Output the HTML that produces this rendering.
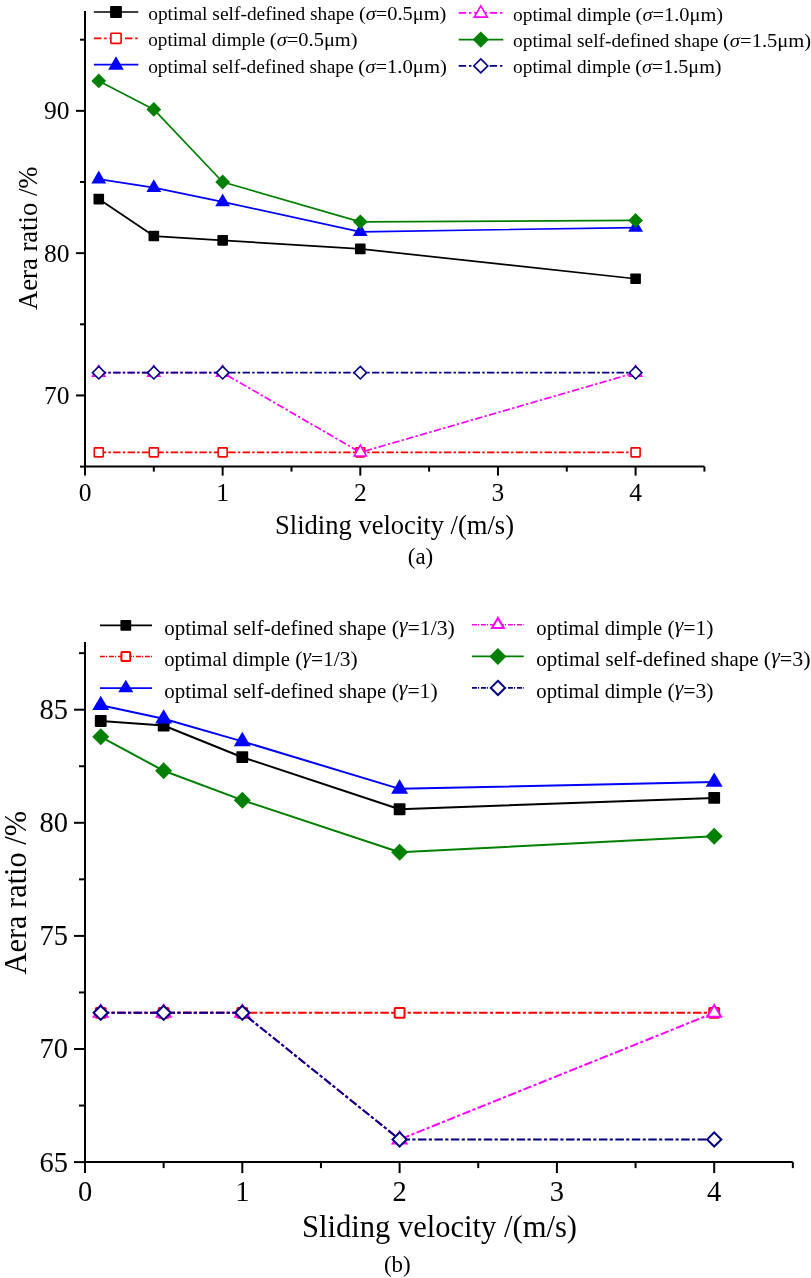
<!DOCTYPE html>
<html><head><meta charset="utf-8"><style>
html,body{margin:0;padding:0;background:#fff;}
svg{display:block;will-change:transform;}
text{font-family:"Liberation Serif", serif;fill:#000;}
</style></head><body>
<svg width="811" height="1278" viewBox="0 0 811 1278">
<rect width="811" height="1278" fill="#fff"/>
<line x1="85" y1="11" x2="85" y2="466.6" stroke="#000" stroke-width="2"/>
<line x1="84" y1="466.6" x2="704.4250000000001" y2="466.6" stroke="#000" stroke-width="2"/>
<line x1="76" y1="395.45" x2="85" y2="395.45" stroke="#000" stroke-width="2"/>
<text x="69.6" y="403.85" font-size="25.5" text-anchor="end">70</text>
<line x1="76" y1="253.15" x2="85" y2="253.15" stroke="#000" stroke-width="2"/>
<text x="69.6" y="261.55" font-size="25.5" text-anchor="end">80</text>
<line x1="76" y1="110.85" x2="85" y2="110.85" stroke="#000" stroke-width="2"/>
<text x="69.6" y="119.25" font-size="25.5" text-anchor="end">90</text>
<line x1="80" y1="466.60" x2="85" y2="466.60" stroke="#000" stroke-width="2"/>
<line x1="80" y1="324.30" x2="85" y2="324.30" stroke="#000" stroke-width="2"/>
<line x1="80" y1="182.00" x2="85" y2="182.00" stroke="#000" stroke-width="2"/>
<line x1="80" y1="39.70" x2="85" y2="39.70" stroke="#000" stroke-width="2"/>
<line x1="85.00" y1="466.6" x2="85.00" y2="475.6" stroke="#000" stroke-width="2"/>
<text x="85.00" y="500.8" font-size="25.5" text-anchor="middle">0</text>
<line x1="222.65" y1="466.6" x2="222.65" y2="475.6" stroke="#000" stroke-width="2"/>
<text x="222.65" y="500.8" font-size="25.5" text-anchor="middle">1</text>
<line x1="360.30" y1="466.6" x2="360.30" y2="475.6" stroke="#000" stroke-width="2"/>
<text x="360.30" y="500.8" font-size="25.5" text-anchor="middle">2</text>
<line x1="497.95" y1="466.6" x2="497.95" y2="475.6" stroke="#000" stroke-width="2"/>
<text x="497.95" y="500.8" font-size="25.5" text-anchor="middle">3</text>
<line x1="635.60" y1="466.6" x2="635.60" y2="475.6" stroke="#000" stroke-width="2"/>
<text x="635.60" y="500.8" font-size="25.5" text-anchor="middle">4</text>
<line x1="153.82" y1="466.6" x2="153.82" y2="471.6" stroke="#000" stroke-width="2"/>
<line x1="291.48" y1="466.6" x2="291.48" y2="471.6" stroke="#000" stroke-width="2"/>
<line x1="429.12" y1="466.6" x2="429.12" y2="471.6" stroke="#000" stroke-width="2"/>
<line x1="566.78" y1="466.6" x2="566.78" y2="471.6" stroke="#000" stroke-width="2"/>
<line x1="704.43" y1="466.6" x2="704.43" y2="471.6" stroke="#000" stroke-width="2"/>
<text x="275" y="533.5" font-size="27.5" textLength="239" lengthAdjust="spacingAndGlyphs">Sliding velocity /(m/s)</text>
<text transform="translate(37.3,310) rotate(-90)" font-size="27.5" textLength="143.5" lengthAdjust="spacingAndGlyphs">Aera ratio /%</text>
<text x="420.5" y="564" font-size="23" text-anchor="middle">(a)</text>
<polyline points="98.77,199.08 153.82,236.07 222.65,240.34 360.30,248.88 635.60,278.76" fill="none" stroke="#000000" stroke-width="1.7" stroke-linejoin="round"/>
<rect x="93.47" y="193.78" width="10.60" height="10.60" rx="0.8" fill="#000000"/>
<rect x="148.52" y="230.77" width="10.60" height="10.60" rx="0.8" fill="#000000"/>
<rect x="217.35" y="235.04" width="10.60" height="10.60" rx="0.8" fill="#000000"/>
<rect x="355.00" y="243.58" width="10.60" height="10.60" rx="0.8" fill="#000000"/>
<rect x="630.30" y="273.46" width="10.60" height="10.60" rx="0.8" fill="#000000"/>
<polyline points="98.77,452.37 153.82,452.37 222.65,452.37 360.30,452.37 635.60,452.37" fill="none" stroke="#ff0000" stroke-width="1.7" stroke-dasharray="7.4 2.25 2.4 2.33" stroke-linejoin="round"/>
<rect x="94.27" y="447.87" width="9.00" height="9.00" rx="0.6" fill="#fff" stroke="#ff0000" stroke-width="1.6"/>
<rect x="149.32" y="447.87" width="9.00" height="9.00" rx="0.6" fill="#fff" stroke="#ff0000" stroke-width="1.6"/>
<rect x="218.15" y="447.87" width="9.00" height="9.00" rx="0.6" fill="#fff" stroke="#ff0000" stroke-width="1.6"/>
<rect x="355.80" y="447.87" width="9.00" height="9.00" rx="0.6" fill="#fff" stroke="#ff0000" stroke-width="1.6"/>
<rect x="631.10" y="447.87" width="9.00" height="9.00" rx="0.6" fill="#fff" stroke="#ff0000" stroke-width="1.6"/>
<polyline points="98.77,179.15 153.82,187.69 222.65,201.92 360.30,231.81 635.60,227.54" fill="none" stroke="#0000ff" stroke-width="1.7" stroke-linejoin="round"/>
<polygon points="98.77,170.62 106.17,183.42 91.36,183.42" fill="#0000ff"/>
<polygon points="153.82,179.16 161.22,191.96 146.42,191.96" fill="#0000ff"/>
<polygon points="222.65,193.39 230.05,206.19 215.25,206.19" fill="#0000ff"/>
<polygon points="360.30,223.27 367.70,236.07 352.90,236.07" fill="#0000ff"/>
<polygon points="635.60,219.00 643.00,231.80 628.20,231.80" fill="#0000ff"/>
<polyline points="98.77,372.68 153.82,372.68 222.65,372.68 360.30,452.37 635.60,372.68" fill="none" stroke="#ff00ff" stroke-width="1.7" stroke-dasharray="7.4 2.25 2.4 2.33" stroke-linejoin="round"/>
<polygon points="98.77,365.54 104.89,376.26 92.64,376.26" fill="#fff" stroke="#ff00ff" stroke-width="1.6"/>
<polygon points="153.82,365.54 159.94,376.26 147.70,376.26" fill="#fff" stroke="#ff00ff" stroke-width="1.6"/>
<polygon points="222.65,365.54 228.77,376.26 216.53,376.26" fill="#fff" stroke="#ff00ff" stroke-width="1.6"/>
<polygon points="360.30,445.22 366.42,455.94 354.18,455.94" fill="#fff" stroke="#ff00ff" stroke-width="1.6"/>
<polygon points="635.60,365.54 641.72,376.26 629.48,376.26" fill="#fff" stroke="#ff00ff" stroke-width="1.6"/>
<polyline points="98.77,80.97 153.82,109.43 222.65,182.00 360.30,221.84 635.60,220.42" fill="none" stroke="#008000" stroke-width="1.7" stroke-linejoin="round"/>
<polygon points="98.77,73.57 106.17,80.97 98.77,88.37 91.36,80.97" fill="#008000"/>
<polygon points="153.82,102.03 161.22,109.43 153.82,116.83 146.42,109.43" fill="#008000"/>
<polygon points="222.65,174.60 230.05,182.00 222.65,189.40 215.25,182.00" fill="#008000"/>
<polygon points="360.30,214.44 367.70,221.84 360.30,229.24 352.90,221.84" fill="#008000"/>
<polygon points="635.60,213.02 643.00,220.42 635.60,227.82 628.20,220.42" fill="#008000"/>
<polyline points="98.77,372.68 153.82,372.68 222.65,372.68 360.30,372.68 635.60,372.68" fill="none" stroke="#000080" stroke-width="1.7" stroke-dasharray="7.4 2.25 2.4 2.33" stroke-linejoin="round"/>
<polygon points="98.77,366.40 105.05,372.68 98.77,378.96 92.48,372.68" fill="#fff" stroke="#000080" stroke-width="1.6"/>
<polygon points="153.82,366.40 160.10,372.68 153.82,378.96 147.54,372.68" fill="#fff" stroke="#000080" stroke-width="1.6"/>
<polygon points="222.65,366.40 228.93,372.68 222.65,378.96 216.37,372.68" fill="#fff" stroke="#000080" stroke-width="1.6"/>
<polygon points="360.30,366.40 366.58,372.68 360.30,378.96 354.02,372.68" fill="#fff" stroke="#000080" stroke-width="1.6"/>
<polygon points="635.60,366.40 641.88,372.68 635.60,378.96 629.32,372.68" fill="#fff" stroke="#000080" stroke-width="1.6"/>
<line x1="93.9" y1="12" x2="138.3" y2="12" stroke="#000000" stroke-width="1.7"/>
<rect x="110.10" y="6.10" width="11.80" height="11.80" rx="0.8" fill="#000000"/>
<text x="148.20" y="20" font-size="19" textLength="206.00" lengthAdjust="spacingAndGlyphs">optimal self-defined shape</text>
<text x="358.94" y="20" font-size="19" textLength="87.47" lengthAdjust="spacingAndGlyphs">(<tspan font-style="italic" dy="0">σ</tspan><tspan dy="0">=0.5μm)</tspan></text>
<line x1="93.9" y1="38.3" x2="138.3" y2="38.3" stroke="#ff0000" stroke-width="1.7" stroke-dasharray="7.4 2.9 2.4 2.8"/>
<rect x="110.90" y="33.20" width="10.20" height="10.20" rx="0.6" fill="#fff" stroke="#ff0000" stroke-width="1.6"/>
<text x="148.20" y="46.2" font-size="19" textLength="116.89" lengthAdjust="spacingAndGlyphs">optimal dimple</text>
<text x="269.84" y="46.2" font-size="19" textLength="87.77" lengthAdjust="spacingAndGlyphs">(<tspan font-style="italic" dy="0">σ</tspan><tspan dy="0">=0.5μm)</tspan></text>
<line x1="93.9" y1="64.6" x2="138.3" y2="64.6" stroke="#0000ff" stroke-width="1.7"/>
<polygon points="116.00,56.27 123.80,69.67 108.20,69.67" fill="#0000ff"/>
<text x="148.20" y="72.5" font-size="19" textLength="205.39" lengthAdjust="spacingAndGlyphs">optimal self-defined shape</text>
<text x="358.34" y="72.5" font-size="19" textLength="88.47" lengthAdjust="spacingAndGlyphs">(<tspan font-style="italic" dy="0">σ</tspan><tspan dy="0">=1.0μm)</tspan></text>
<line x1="458.7" y1="12.8" x2="503.3" y2="12.8" stroke="#ff00ff" stroke-width="1.7" stroke-dasharray="7.4 2.9 2.4 2.8"/>
<polygon points="480.80,5.85 487.32,17.17 474.28,17.17" fill="#fff" stroke="#ff00ff" stroke-width="1.6"/>
<text x="513.10" y="20.5" font-size="19" textLength="117.79" lengthAdjust="spacingAndGlyphs">optimal dimple</text>
<text x="635.64" y="20.5" font-size="19" textLength="87.47" lengthAdjust="spacingAndGlyphs">(<tspan font-style="italic" dy="0">σ</tspan><tspan dy="0">=1.0μm)</tspan></text>
<line x1="458.7" y1="39.6" x2="503.3" y2="39.6" stroke="#008000" stroke-width="1.7"/>
<polygon points="480.80,31.45 488.95,39.60 480.80,47.75 472.65,39.60" fill="#008000"/>
<text x="513.10" y="47" font-size="19" textLength="205.19" lengthAdjust="spacingAndGlyphs">optimal self-defined shape</text>
<text x="723.04" y="47" font-size="19" textLength="88.17" lengthAdjust="spacingAndGlyphs">(<tspan font-style="italic" dy="0">σ</tspan><tspan dy="0">=1.5μm)</tspan></text>
<line x1="458.7" y1="65.9" x2="503.3" y2="65.9" stroke="#000080" stroke-width="1.7" stroke-dasharray="7.4 2.9 2.4 2.8"/>
<polygon points="480.80,58.87 487.83,65.90 480.80,72.93 473.77,65.90" fill="#fff" stroke="#000080" stroke-width="1.6"/>
<text x="513.10" y="73.3" font-size="19" textLength="117.39" lengthAdjust="spacingAndGlyphs">optimal dimple</text>
<text x="635.25" y="73.3" font-size="19" textLength="86.27" lengthAdjust="spacingAndGlyphs">(<tspan font-style="italic" dy="0">σ</tspan><tspan dy="0">=1.5μm)</tspan></text>
<line x1="85" y1="641.9" x2="85" y2="1162.1" stroke="#000" stroke-width="2"/>
<line x1="84" y1="1162.1" x2="792.85" y2="1162.1" stroke="#000" stroke-width="2"/>
<line x1="74" y1="1162.10" x2="85" y2="1162.10" stroke="#000" stroke-width="2"/>
<text x="68" y="1171.50" font-size="28.5" text-anchor="end">65</text>
<line x1="74" y1="1049.00" x2="85" y2="1049.00" stroke="#000" stroke-width="2"/>
<text x="68" y="1058.40" font-size="28.5" text-anchor="end">70</text>
<line x1="74" y1="935.90" x2="85" y2="935.90" stroke="#000" stroke-width="2"/>
<text x="68" y="945.30" font-size="28.5" text-anchor="end">75</text>
<line x1="74" y1="822.80" x2="85" y2="822.80" stroke="#000" stroke-width="2"/>
<text x="68" y="832.20" font-size="28.5" text-anchor="end">80</text>
<line x1="74" y1="709.70" x2="85" y2="709.70" stroke="#000" stroke-width="2"/>
<text x="68" y="719.10" font-size="28.5" text-anchor="end">85</text>
<line x1="79" y1="1105.55" x2="85" y2="1105.55" stroke="#000" stroke-width="2"/>
<line x1="79" y1="992.45" x2="85" y2="992.45" stroke="#000" stroke-width="2"/>
<line x1="79" y1="879.35" x2="85" y2="879.35" stroke="#000" stroke-width="2"/>
<line x1="79" y1="766.25" x2="85" y2="766.25" stroke="#000" stroke-width="2"/>
<line x1="79" y1="653.15" x2="85" y2="653.15" stroke="#000" stroke-width="2"/>
<line x1="85.00" y1="1162.1" x2="85.00" y2="1173.1" stroke="#000" stroke-width="2"/>
<text x="85.00" y="1200.8" font-size="28.5" text-anchor="middle">0</text>
<line x1="242.30" y1="1162.1" x2="242.30" y2="1173.1" stroke="#000" stroke-width="2"/>
<text x="242.30" y="1200.8" font-size="28.5" text-anchor="middle">1</text>
<line x1="399.60" y1="1162.1" x2="399.60" y2="1173.1" stroke="#000" stroke-width="2"/>
<text x="399.60" y="1200.8" font-size="28.5" text-anchor="middle">2</text>
<line x1="556.90" y1="1162.1" x2="556.90" y2="1173.1" stroke="#000" stroke-width="2"/>
<text x="556.90" y="1200.8" font-size="28.5" text-anchor="middle">3</text>
<line x1="714.20" y1="1162.1" x2="714.20" y2="1173.1" stroke="#000" stroke-width="2"/>
<text x="714.20" y="1200.8" font-size="28.5" text-anchor="middle">4</text>
<line x1="163.65" y1="1162.1" x2="163.65" y2="1168.1" stroke="#000" stroke-width="2"/>
<line x1="320.95" y1="1162.1" x2="320.95" y2="1168.1" stroke="#000" stroke-width="2"/>
<line x1="478.25" y1="1162.1" x2="478.25" y2="1168.1" stroke="#000" stroke-width="2"/>
<line x1="635.55" y1="1162.1" x2="635.55" y2="1168.1" stroke="#000" stroke-width="2"/>
<line x1="792.85" y1="1162.1" x2="792.85" y2="1168.1" stroke="#000" stroke-width="2"/>
<text x="302" y="1236.5" font-size="30.5" textLength="275" lengthAdjust="spacingAndGlyphs">Sliding velocity /(m/s)</text>
<text transform="translate(26.3,974.5) rotate(-90)" font-size="30.5" textLength="163.5" lengthAdjust="spacingAndGlyphs">Aera ratio /%</text>
<text x="397.3" y="1272" font-size="23" text-anchor="middle">(b)</text>
<polyline points="100.73,721.01 163.65,725.53 242.30,757.20 399.60,809.23 714.20,797.92" fill="none" stroke="#000000" stroke-width="2" stroke-linejoin="round"/>
<rect x="94.83" y="715.11" width="11.80" height="11.80" rx="0.8" fill="#000000"/>
<rect x="157.75" y="719.63" width="11.80" height="11.80" rx="0.8" fill="#000000"/>
<rect x="236.40" y="751.30" width="11.80" height="11.80" rx="0.8" fill="#000000"/>
<rect x="393.70" y="803.33" width="11.80" height="11.80" rx="0.8" fill="#000000"/>
<rect x="708.30" y="792.02" width="11.80" height="11.80" rx="0.8" fill="#000000"/>
<polyline points="100.73,1012.81 163.65,1012.81 242.30,1012.81 399.60,1012.81 714.20,1012.81" fill="none" stroke="#ff0000" stroke-width="2" stroke-dasharray="8.5 2.3 3.2 2.45" stroke-linejoin="round"/>
<rect x="95.83" y="1007.91" width="9.80" height="9.80" rx="0.6" fill="#fff" stroke="#ff0000" stroke-width="2"/>
<rect x="158.75" y="1007.91" width="9.80" height="9.80" rx="0.6" fill="#fff" stroke="#ff0000" stroke-width="2"/>
<rect x="237.40" y="1007.91" width="9.80" height="9.80" rx="0.6" fill="#fff" stroke="#ff0000" stroke-width="2"/>
<rect x="394.70" y="1007.91" width="9.80" height="9.80" rx="0.6" fill="#fff" stroke="#ff0000" stroke-width="2"/>
<rect x="709.30" y="1007.91" width="9.80" height="9.80" rx="0.6" fill="#fff" stroke="#ff0000" stroke-width="2"/>
<polyline points="100.73,705.18 163.65,718.75 242.30,741.37 399.60,788.87 714.20,782.08" fill="none" stroke="#0000ff" stroke-width="2" stroke-linejoin="round"/>
<polygon points="100.73,695.64 109.23,709.94 92.23,709.94" fill="#0000ff"/>
<polygon points="163.65,709.21 172.15,723.51 155.15,723.51" fill="#0000ff"/>
<polygon points="242.30,731.83 250.80,746.13 233.80,746.13" fill="#0000ff"/>
<polygon points="399.60,779.34 408.10,793.64 391.10,793.64" fill="#0000ff"/>
<polygon points="714.20,772.55 722.70,786.85 705.70,786.85" fill="#0000ff"/>
<polyline points="100.73,1012.81 163.65,1012.81 242.30,1012.81 399.60,1139.48 714.20,1012.81" fill="none" stroke="#ff00ff" stroke-width="2" stroke-dasharray="8.5 2.3 3.2 2.45" stroke-linejoin="round"/>
<polygon points="100.73,1005.01 107.63,1016.71 93.83,1016.71" fill="#fff" stroke="#ff00ff" stroke-width="2"/>
<polygon points="163.65,1005.01 170.55,1016.71 156.75,1016.71" fill="#fff" stroke="#ff00ff" stroke-width="2"/>
<polygon points="242.30,1005.01 249.20,1016.71 235.40,1016.71" fill="#fff" stroke="#ff00ff" stroke-width="2"/>
<polygon points="399.60,1131.68 406.50,1143.38 392.70,1143.38" fill="#fff" stroke="#ff00ff" stroke-width="2"/>
<polygon points="714.20,1005.01 721.10,1016.71 707.30,1016.71" fill="#fff" stroke="#ff00ff" stroke-width="2"/>
<polyline points="100.73,736.84 163.65,770.77 242.30,800.18 399.60,852.21 714.20,836.37" fill="none" stroke="#008000" stroke-width="2" stroke-linejoin="round"/>
<polygon points="100.73,728.34 109.23,736.84 100.73,745.34 92.23,736.84" fill="#008000"/>
<polygon points="163.65,762.27 172.15,770.77 163.65,779.27 155.15,770.77" fill="#008000"/>
<polygon points="242.30,791.68 250.80,800.18 242.30,808.68 233.80,800.18" fill="#008000"/>
<polygon points="399.60,843.71 408.10,852.21 399.60,860.71 391.10,852.21" fill="#008000"/>
<polygon points="714.20,827.87 722.70,836.37 714.20,844.87 705.70,836.37" fill="#008000"/>
<polyline points="100.73,1012.81 163.65,1012.81 242.30,1012.81 399.60,1139.48 714.20,1139.48" fill="none" stroke="#000080" stroke-width="2" stroke-dasharray="8.5 2.3 3.2 2.45" stroke-linejoin="round"/>
<polygon points="100.73,1005.71 107.83,1012.81 100.73,1019.91 93.63,1012.81" fill="#fff" stroke="#000080" stroke-width="2"/>
<polygon points="163.65,1005.71 170.75,1012.81 163.65,1019.91 156.55,1012.81" fill="#fff" stroke="#000080" stroke-width="2"/>
<polygon points="242.30,1005.71 249.40,1012.81 242.30,1019.91 235.20,1012.81" fill="#fff" stroke="#000080" stroke-width="2"/>
<polygon points="399.60,1132.38 406.70,1139.48 399.60,1146.58 392.50,1139.48" fill="#fff" stroke="#000080" stroke-width="2"/>
<polygon points="714.20,1132.38 721.30,1139.48 714.20,1146.58 707.10,1139.48" fill="#fff" stroke="#000080" stroke-width="2"/>
<line x1="100" y1="625.4" x2="152" y2="625.4" stroke="#000000" stroke-width="1.6"/>
<rect x="120.40" y="620.00" width="10.80" height="10.80" rx="0.8" fill="#000000"/>
<text x="164.20" y="635" font-size="21" textLength="222.21" lengthAdjust="spacingAndGlyphs">optimal self-defined shape</text>
<text x="391.66" y="635" font-size="21" textLength="63.15" lengthAdjust="spacingAndGlyphs">(<tspan font-style="italic" dy="-3">γ</tspan><tspan dy="3">=1/3)</tspan></text>
<line x1="100" y1="656.5" x2="152" y2="656.5" stroke="#ff0000" stroke-width="1.6" stroke-dasharray="4.9 1.0 1.2 1.9"/>
<rect x="121.40" y="652.10" width="8.80" height="8.80" rx="0.6" fill="#fff" stroke="#ff0000" stroke-width="2"/>
<text x="164.20" y="666.2" font-size="21" textLength="125.81" lengthAdjust="spacingAndGlyphs">optimal dimple</text>
<text x="295.25" y="666.2" font-size="21" textLength="62.45" lengthAdjust="spacingAndGlyphs">(<tspan font-style="italic" dy="-3">γ</tspan><tspan dy="3">=1/3)</tspan></text>
<line x1="100" y1="688.1" x2="152" y2="688.1" stroke="#0000ff" stroke-width="1.6"/>
<polygon points="125.80,679.63 133.30,692.33 118.30,692.33" fill="#0000ff"/>
<text x="164.20" y="697.6" font-size="21" textLength="222.21" lengthAdjust="spacingAndGlyphs">optimal self-defined shape</text>
<text x="391.66" y="697.6" font-size="21" textLength="45.95" lengthAdjust="spacingAndGlyphs">(<tspan font-style="italic" dy="-3">γ</tspan><tspan dy="3">=1)</tspan></text>
<line x1="472" y1="624.7" x2="523.7" y2="624.7" stroke="#ff00ff" stroke-width="1.6" stroke-dasharray="4.9 1.0 1.2 1.9"/>
<polygon points="497.90,617.97 503.80,628.07 492.00,628.07" fill="#fff" stroke="#ff00ff" stroke-width="2"/>
<text x="536.30" y="634.5" font-size="21" textLength="126.00" lengthAdjust="spacingAndGlyphs">optimal dimple</text>
<text x="667.55" y="634.5" font-size="21" textLength="46.05" lengthAdjust="spacingAndGlyphs">(<tspan font-style="italic" dy="-3">γ</tspan><tspan dy="3">=1)</tspan></text>
<line x1="472" y1="656.4" x2="523.7" y2="656.4" stroke="#008000" stroke-width="1.6"/>
<polygon points="497.90,647.90 506.40,656.40 497.90,664.90 489.40,656.40" fill="#008000"/>
<text x="536.30" y="666.3" font-size="21" textLength="222.30" lengthAdjust="spacingAndGlyphs">optimal self-defined shape</text>
<text x="763.85" y="666.3" font-size="21" textLength="46.75" lengthAdjust="spacingAndGlyphs">(<tspan font-style="italic" dy="-3">γ</tspan><tspan dy="3">=3)</tspan></text>
<line x1="472" y1="687.9" x2="523.7" y2="687.9" stroke="#000080" stroke-width="1.6" stroke-dasharray="4.9 1.0 1.2 1.9"/>
<polygon points="497.90,680.80 505.00,687.90 497.90,695.00 490.80,687.90" fill="#fff" stroke="#000080" stroke-width="2"/>
<text x="536.30" y="697.6" font-size="21" textLength="126.00" lengthAdjust="spacingAndGlyphs">optimal dimple</text>
<text x="667.55" y="697.6" font-size="21" textLength="46.05" lengthAdjust="spacingAndGlyphs">(<tspan font-style="italic" dy="-3">γ</tspan><tspan dy="3">=3)</tspan></text>
</svg>
</body></html>
